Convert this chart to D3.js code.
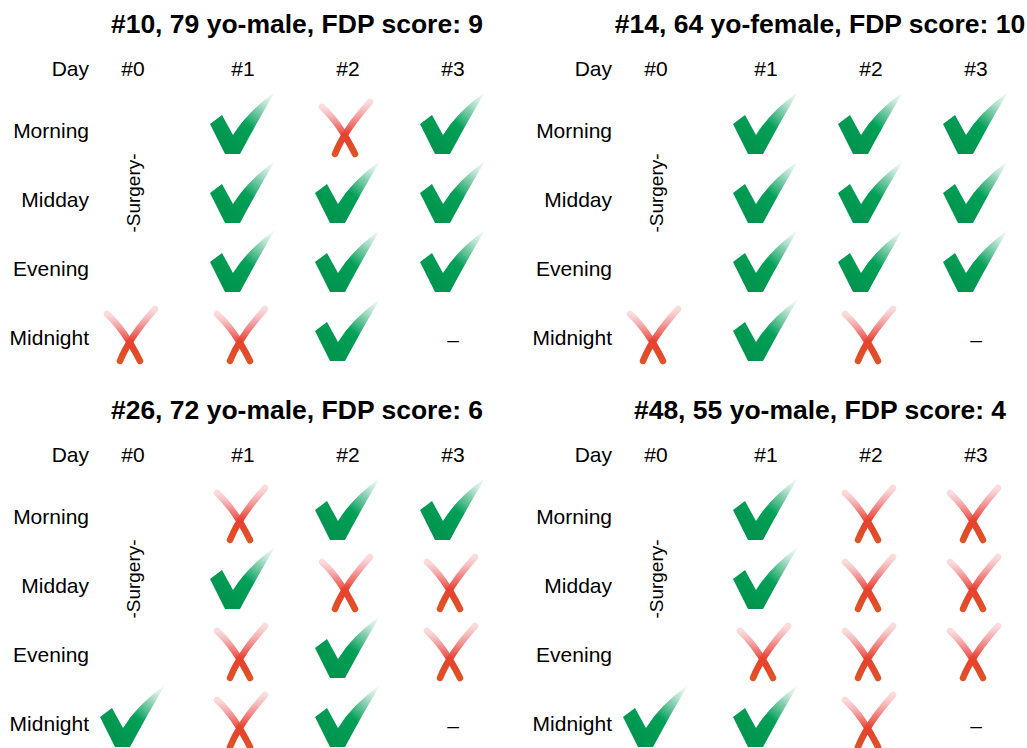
<!DOCTYPE html>
<html>
<head>
<meta charset="utf-8">
<script src="https://cdn.jsdelivr.net/npm/d3@7"></script>
<style>
  html, body { margin: 0; padding: 0; background: #fff; }
  svg { display: block; font-family: "Liberation Sans", Arial, Helvetica, sans-serif; }
</style>
</head>
<body>
<svg id="chart" width="1027" height="748"></svg>
<script>
// ---------------- data ----------------
const days = ["#0", "#1", "#2", "#3"];
const times = ["Morning", "Midday", "Evening", "Midnight"];
const titles = [
  "#10, 79 yo-male, FDP score: 9",
  "#14, 64 yo-female, FDP score: 10",
  "#26, 72 yo-male, FDP score: 6",
  "#48, 55 yo-male, FDP score: 4"
];
// rows = times, columns = days; S = surgery day (empty), Y = check, N = cross, D = dash
const patient10 = [["S","Y","N","Y"],["S","Y","Y","Y"],["S","Y","Y","Y"],["N","N","Y","D"]];
const patient14 = [["S","Y","Y","Y"],["S","Y","Y","Y"],["S","Y","Y","Y"],["N","Y","N","D"]];
const patient26 = [["S","N","Y","Y"],["S","Y","N","N"],["S","N","Y","N"],["Y","N","Y","D"]];
const patient48 = [["S","Y","N","N"],["S","Y","N","N"],["S","N","N","N"],["Y","Y","N","D"]];
const patients = [patient10, patient14, patient26, patient48];
const surgeryLabel = "-Surgery-";
const dayLabel = "Day";

// ---------------- layout ----------------
const svg = d3.select("#chart");
const panelX = d3.scaleOrdinal().domain([0, 1]).range([0, 523]);
const panelY = d3.scaleOrdinal().domain([0, 1]).range([0, 386]);
const x = d3.scaleOrdinal().domain(days).range([133, 243, 348, 453]);
const y = d3.scalePoint().domain(times).range([138, 345]);
const headerY = 76, titleY = 33, titleX = 297, labelRight = 89;

const defs = svg.append("defs");
const gG = defs.append("linearGradient").attr("id", "gcheck")
  .attr("x1", 0.25).attr("y1", 0.9).attr("x2", 1).attr("y2", 0);
gG.append("stop").attr("offset", 0).attr("stop-color", "#00954e");
gG.append("stop").attr("offset", 0.42).attr("stop-color", "#02a058");
gG.append("stop").attr("offset", 0.68).attr("stop-color", "#5cbf94").attr("stop-opacity", 0.75);
gG.append("stop").attr("offset", 1).attr("stop-color", "#d6efe4").attr("stop-opacity", 0.25);

const gR = defs.append("linearGradient").attr("id", "gcross")
  .attr("x1", 0).attr("y1", 0).attr("x2", 0).attr("y2", 1);
gR.append("stop").attr("offset", 0).attr("stop-color", "#f4b0b3").attr("stop-opacity", 0.45);
gR.append("stop").attr("offset", 0.35).attr("stop-color", "#f07474").attr("stop-opacity", 0.85);
gR.append("stop").attr("offset", 0.62).attr("stop-color", "#e8402e");
gR.append("stop").attr("offset", 1).attr("stop-color", "#df5226");

const checkPath = "M-33,-14 L-21,-23 L-10,-3 Q4,-26 32,-46 Q14,-16 -3,16 L-18,16 Z";
const crossA = "M-26,-31 Q-8.7,-15.4 7,16";
const crossB = "M22,-36 Q-3.6,-7.6 -13,16";

patients.forEach((grid, i) => {
  const g = svg.append("g")
    .attr("transform", `translate(${panelX(i % 2)},${panelY(Math.floor(i / 2))})`);

  g.append("text").attr("x", titleX).attr("y", titleY)
    .attr("text-anchor", "middle").attr("font-size", 26.5).attr("font-weight", "bold")
    .attr("fill", "#000").text(titles[i]);

  g.append("text").attr("x", labelRight).attr("y", headerY)
    .attr("text-anchor", "end").attr("font-size", 21).text(dayLabel);

  g.selectAll("text.day").data(days).join("text").attr("class", "day")
    .attr("x", d => x(d)).attr("y", headerY)
    .attr("text-anchor", "middle").attr("font-size", 21).text(d => d);

  g.selectAll("text.time").data(times).join("text").attr("class", "time")
    .attr("x", labelRight).attr("y", d => y(d))
    .attr("text-anchor", "end").attr("font-size", 21).text(d => d);

  // surgery label, centered on the surgery cells of day #0
  const sRows = times.filter((t, r) => grid[r][0] === "S");
  const sy = (y(sRows[0]) + y(sRows[sRows.length - 1])) / 2 - 14;
  g.append("text")
    .attr("transform", `translate(${x(days[0])},${sy}) rotate(-90)`)
    .attr("text-anchor", "middle").attr("dominant-baseline", "central")
    .attr("font-size", 19).text(surgeryLabel);

  const cells = [];
  grid.forEach((row, r) => row.forEach((v, c) => cells.push({ t: times[r], d: days[c], v })));

  const marks = g.selectAll("g.mark").data(cells.filter(c => c.v !== "S")).join("g")
    .attr("class", "mark")
    .attr("transform", c => `translate(${x(c.d)},${y(c.t)})`);

  marks.filter(c => c.v === "Y").append("path")
    .attr("d", checkPath).attr("fill", "url(#gcheck)");

  const cr = marks.filter(c => c.v === "N");
  [crossA, crossB].forEach(p => cr.append("path")
    .attr("d", p).attr("fill", "none").attr("stroke", "url(#gcross)")
    .attr("stroke-width", 6.5).attr("stroke-linecap", "round"));

  marks.filter(c => c.v === "D").append("text")
    .attr("y", 2).attr("text-anchor", "middle").attr("font-size", 21).text("–");
});
</script>
</body>
</html>
